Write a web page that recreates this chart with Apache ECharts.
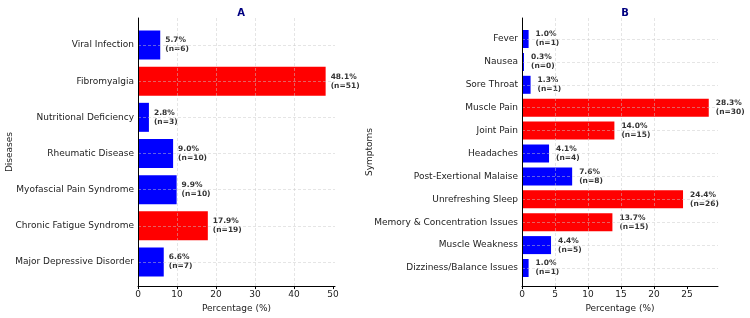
<!DOCTYPE html>
<html>
<head>
<meta charset="utf-8">
<script src="https://cdn.jsdelivr.net/npm/echarts@6/dist/echarts.min.js"></script>
<style>
  html, body { margin: 0; padding: 0; background: #fff; }
  #chart { width: 750px; height: 318px; }
</style>
</head>
<body>
<div id="chart"></div>
<script>
// panel A - diseases
var diseaseNames = ['Viral Infection', 'Fibromyalgia', 'Nutritional Deficiency', 'Rheumatic Disease',
  'Myofascial Pain Syndrome', 'Chronic Fatigue Syndrome', 'Major Depressive Disorder'];
var diseasePct = [5.7, 48.1, 2.8, 9.0, 9.9, 17.9, 6.6];
var diseaseN = [6, 51, 3, 10, 10, 19, 7];
var diseaseColors = ['#0000ff', '#ff0000', '#0000ff', '#0000ff', '#0000ff', '#ff0000', '#0000ff'];
var diseaseTicks = [0, 10, 20, 30, 40, 50];

// panel B - symptoms
var symptomNames = ['Fever', 'Nausea', 'Sore Throat', 'Muscle Pain', 'Joint Pain', 'Headaches',
  'Post-Exertional Malaise', 'Unrefreshing Sleep', 'Memory & Concentration Issues',
  'Muscle Weakness', 'Dizziness/Balance Issues'];
var symptomPct = [1.0, 0.3, 1.3, 28.3, 14.0, 4.1, 7.6, 24.4, 13.7, 4.4, 1.0];
var symptomN = [1, 0, 1, 30, 15, 4, 8, 26, 15, 5, 1];
var symptomColors = ['#0000ff', '#0000ff', '#0000ff', '#ff0000', '#ff0000', '#0000ff',
  '#0000ff', '#ff0000', '#ff0000', '#0000ff', '#0000ff'];
var symptomTicks = [0, 5, 10, 15, 20, 25];

var font = 'DejaVu Sans';
var dash = { color: 'rgba(200,200,200,0.6)', type: [3, 2], width: 0.8 };

function outerX(idx, max, ticks) {
  return {
    type: 'value', gridIndex: idx, min: 0, max: max, z: 5,
    axisLine: { show: true, lineStyle: { color: '#000', width: 1 } },
    axisTick: { show: true, length: 3, customValues: ticks, lineStyle: { color: '#000' } },
    axisLabel: { customValues: ticks, fontFamily: font, fontSize: 9, color: '#222', margin: 4 },
    splitLine: { show: true, showMaxLine: false, lineStyle: dash },
    name: 'Percentage (%)', nameLocation: 'middle', nameGap: 14,
    nameTextStyle: { fontFamily: font, fontSize: 9, color: '#222' }
  };
}
function innerX(idx, max) {
  return { type: 'value', gridIndex: idx, min: 0, max: max, show: false };
}
function outerY(idx, name, gap) {
  return {
    type: 'value', gridIndex: idx, min: 0, max: 1, z: 6,
    axisLine: { show: true, lineStyle: { color: '#000', width: 1 } },
    axisTick: { show: false }, axisLabel: { show: false }, splitLine: { show: false },
    name: name, nameLocation: 'middle', nameGap: gap, nameRotate: 90,
    nameTextStyle: { fontFamily: font, fontSize: 9, color: '#222' }
  };
}
function innerY(idx, names) {
  return {
    type: 'category', gridIndex: idx, data: names, inverse: true, boundaryGap: false, z: 5,
    axisLine: { show: false },
    axisTick: { show: false },
    axisLabel: { fontFamily: font, fontSize: 9, color: '#222', margin: 4, interval: 0 },
    splitLine: { show: true, interval: 0, lineStyle: dash }
  };
}
function barSeries(idx, pct, n, colors, width, dist) {
  return {
    type: 'bar', xAxisIndex: idx, yAxisIndex: idx, barWidth: width, clip: false,
    data: pct.map(function (v, i) { return { value: v, itemStyle: { color: colors[i] } }; }),
    label: {
      show: true, position: 'right', distance: dist,
      fontFamily: font, fontSize: 7.5, fontWeight: 'bold', color: '#333', lineHeight: 9, align: 'left',
      formatter: function (p) { return p.value.toFixed(1) + '%\n(n=' + n[p.dataIndex] + ')'; }
    }
  };
}

var myChart = echarts.init(document.getElementById('chart'));
var option = {
  animation: false,
  title: [
    { text: 'A', left: 236, top: 3, textAlign: 'center',
      textStyle: { fontFamily: font, fontSize: 10, fontWeight: 'bold', color: '#000080' } },
    { text: 'B', left: 620, top: 3, textAlign: 'center',
      textStyle: { fontFamily: font, fontSize: 10, fontWeight: 'bold', color: '#000080' } }
  ],
  grid: [
    { left: 138, width: 197, top: 18, height: 270 },
    { left: 138, width: 197, top: 45, bottom: 56 },
    { left: 522, width: 196, top: 18, height: 270 },
    { left: 522, width: 196, top: 39, bottom: 50 }
  ],
  xAxis: [
    outerX(0, 50.5, diseaseTicks),
    innerX(1, 50.5),
    outerX(2, 29.7, symptomTicks),
    innerX(3, 29.7)
  ],
  yAxis: [
    outerY(0, 'Diseases', 124),
    innerY(1, diseaseNames),
    outerY(2, 'Symptoms', 148),
    innerY(3, symptomNames)
  ],
  series: [
    barSeries(1, diseasePct, diseaseN, diseaseColors, 29, 5),
    barSeries(3, symptomPct, symptomN, symptomColors, 18, 7)
  ]
};
myChart.setOption(option);
</script>
</body>
</html>
